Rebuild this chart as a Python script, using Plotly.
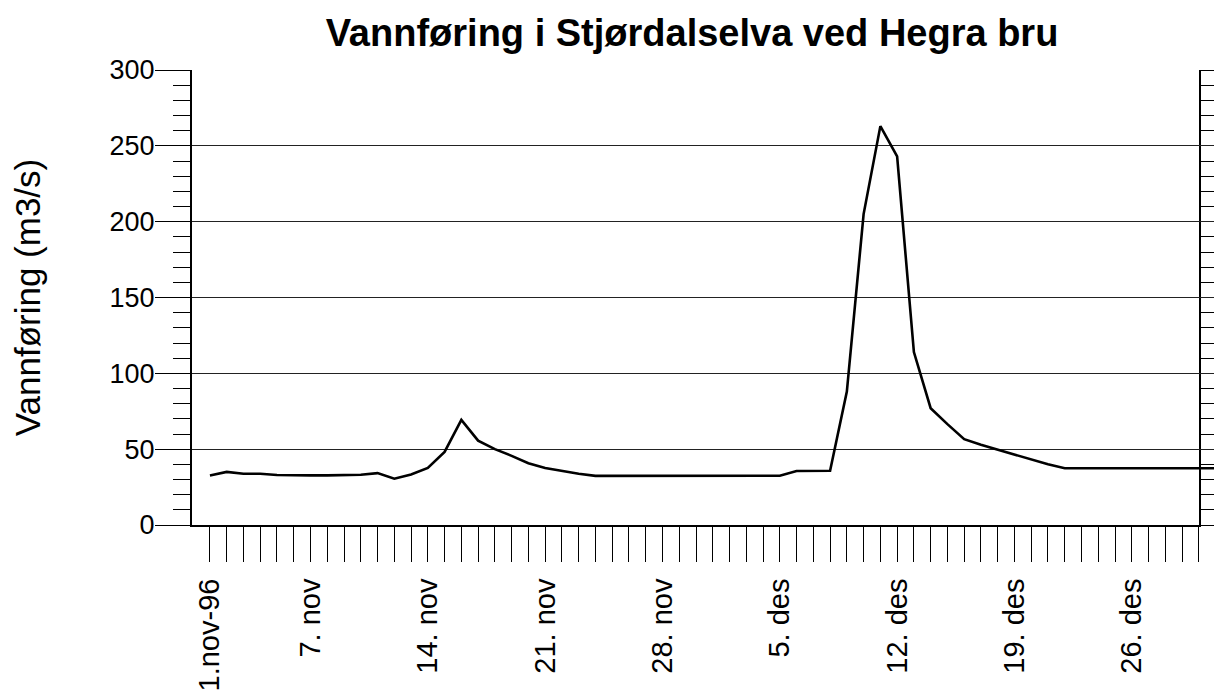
import pandas as pd
import plotly.graph_objects as go

# ---- data -------------------------------------------------------------
start_date = "1996-11-01"
end_date = "1996-12-31"
dates = pd.date_range(start_date, end_date, freq="D")
day_index = [(d - dates[0]).days for d in dates]   # 0 = 1. nov 1996

flow = [
    32.7, 35.0, 33.8, 33.8, 33.0, 32.7, 32.7, 32.7, 32.7, 33.1,   # 1-10 nov
    34.2, 30.5, 33.3, 37.6, 48.2, 69.3, 55.6, 50.0, 45.6, 40.7,   # 11-20 nov
    37.6, 35.6, 33.8, 32.4, 32.4, 32.4, 32.4, 32.4, 32.4, 32.4,   # 21-30 nov
    32.4, 32.4, 32.4, 32.4, 32.5, 35.6, 35.6, 35.8, 88.0, 205.0,  # 1-10 des
    263.0, 243.0, 114.0, 77.0, 66.5, 56.6, 52.9, 49.6, 46.7, 43.0,  # 11-20 des
    40.0, 37.4, 37.4, 37.4, 37.4, 37.4, 37.4, 37.4, 37.4, 37.4,   # 21-30 des
    37.4,                                                         # 31 des
]

label_days = [0, 6, 13, 20, 27, 34, 41, 48, 55]
label_texts = ["1.nov-96", "7. nov", "14. nov", "21. nov", "28. nov",
               "5. des", "12. des", "19. des", "26. des"]

title_text = "Vannføring i Stjørdalselva ved Hegra bru"
ytitle_text = "Vannføring (m3/s)"

# ---- layout geometry (page body adds an 8px offset) -------------------
W, H = 1214, 684
ML, MR, MT, MB = 184, 0, 62, 167
plot_w = W - ML - MR
axis_right_px = 1191
main_dom = (axis_right_px - ML) / plot_w

n_tick_days = 60
left_days = -1.07
right_days = 59.01
px_per_day = (axis_right_px - ML) / (right_days - left_days)
right2_days = right_days + (W - axis_right_px) / px_per_day

tickvals = day_index[:n_tick_days]
ticktext = [""] * n_tick_days
for d, t in zip(label_days, label_texts):
    ticktext[d] = t

FONT = "Liberation Sans, Arial, Helvetica, sans-serif"

fig = go.Figure()
# invisible trace so the visible x axis / right y axis subplot exists
fig.add_trace(go.Scatter(x=day_index, y=flow, mode="lines", line=dict(width=0),
                         opacity=0, hoverinfo="skip", showlegend=False,
                         xaxis="x", yaxis="y2"))
# visible line (on a wider, hidden x axis with identical scale)
fig.add_trace(go.Scatter(x=day_index, y=flow, mode="lines",
                         line=dict(color="black", width=2.6),
                         showlegend=False, xaxis="x2", yaxis="y"))

tick_common = dict(ticks="outside", tickwidth=1.2, tickcolor="black")

fig.update_layout(
    width=W, height=H,
    margin=dict(l=ML, r=MR, t=MT, b=MB, autoexpand=False),
    paper_bgcolor="white", plot_bgcolor="rgba(0,0,0,0)",
    showlegend=False,
    font=dict(family=FONT, color="black"),
    title=dict(text="<b>" + title_text + "</b>",
               font=dict(family=FONT, size=38, color="black"),
               xref="container", x=684 / W, xanchor="center",
               yref="container", y=1 - 25 / H, yanchor="middle"),
    xaxis=dict(
        domain=[0, main_dom], anchor="y", automargin=False,
        range=[left_days, right_days],
        tickmode="array", tickvals=tickvals, ticktext=ticktext,
        tickangle=-90, ticklen=35, ticklabelstandoff=5,
        tickfont=dict(family=FONT, size=29, color="black"),
        showline=True, linewidth=2, linecolor="black",
        showgrid=False, zeroline=False, **tick_common,
    ),
    xaxis2=dict(
        domain=[0, 1], anchor="y", visible=False, automargin=False,
        range=[left_days, right2_days],
        showgrid=False, zeroline=False,
    ),
    yaxis=dict(
        range=[0, 300], tick0=0, dtick=50, ticklen=35, automargin=False,
        ticklabelstandoff=-5,
        tickfont=dict(family=FONT, size=27, color="black"),
        showline=True, linewidth=2, linecolor="black", mirror=False,
        showgrid=True, gridcolor="#222222", gridwidth=1.2,
        zeroline=False,
        minor=dict(dtick=10, tick0=0, ticklen=17, showgrid=False,
                   **tick_common),
        title=dict(text=ytitle_text, standoff=59,
                   font=dict(family=FONT, size=35, color="black")),
        **tick_common,
    ),
    yaxis2=dict(
        range=[0, 300], tick0=0, dtick=50, ticklen=35, automargin=False,
        overlaying="y", side="right", anchor="x",
        showticklabels=False, showline=True, linewidth=2,
        linecolor="black", showgrid=False, zeroline=False,
        minor=dict(dtick=10, tick0=0, ticklen=17, showgrid=False,
                   **tick_common),
        **tick_common,
    ),
)

fig.write_html("out.html")
